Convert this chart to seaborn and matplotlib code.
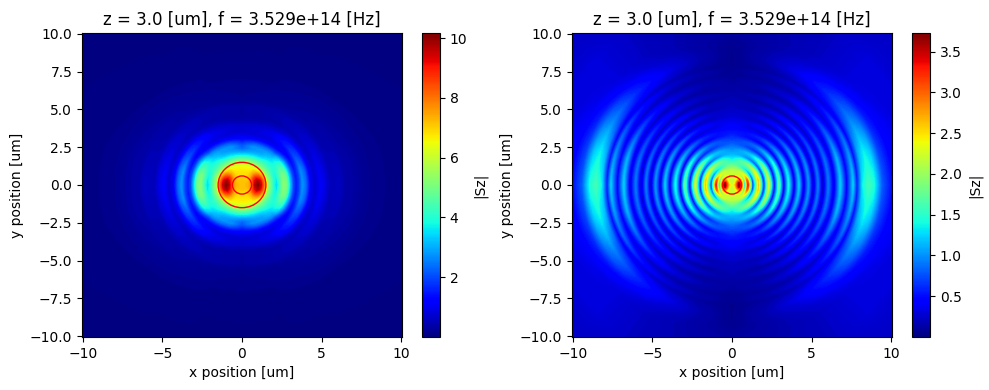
import numpy as np
import matplotlib
matplotlib.use("Agg")
import matplotlib.pyplot as plt
from matplotlib.patches import Circle
from matplotlib.cm import ScalarMappable
from matplotlib.colors import Normalize
import seaborn as sns

TITLE = "z = 3.0 [um], f = 3.529e+14 [Hz]"
ray_angles = [0, 15, 30, 45, 60, 75, 90]

left_r = [0,.2,.4,.6,.8,1.0,1.2,1.4,1.6,1.8,2.0,2.2,2.4,2.6,2.8,3.0,3.2,3.4,3.6,3.8,4.0,4.3,4.6,4.9,5.2,5.5,5.8,6.1,6.5,7,8,9,10,12,15]
left_0  = [7.2,7.2,7.3,7.8,9.6,10.1,9.4,7.8,5.5,4.8,3.8,3.4,4.4,5.2,5.0,3.4,2.0,1.4,1.9,2.7,2.3,1.0,.7,1.1,.9,.5,.55,.6,.35,.3,.15,.1,.08,.05,.03]
left_15 = [7.2,7.2,7.3,7.7,9.2,9.8,9.1,7.6,5.5,4.8,4.0,3.7,4.4,5.0,4.8,3.3,2.0,1.4,1.8,2.6,2.2,1.0,.7,1.0,.8,.5,.5,.5,.35,.3,.15,.1,.08,.05,.03]
left_30 = [7.2,7.2,7.2,7.4,8.5,8.8,8.2,7.0,5.4,4.7,4.2,4.0,4.0,4.2,4.0,2.9,1.8,1.2,1.5,2.0,1.8,.9,.6,.8,.7,.45,.4,.4,.3,.25,.12,.08,.07,.05,.03]
left_45 = [7.2,7.2,7.1,7.1,7.4,7.5,7.2,6.4,5.3,4.7,4.2,3.8,3.4,3.1,2.7,1.9,1.3,1.0,1.2,1.5,1.4,.8,.5,.6,.55,.4,.3,.3,.25,.2,.1,.07,.06,.04,.03]
left_60 = [7.2,7.2,7.0,6.9,6.9,6.8,6.6,6.0,5.2,4.5,3.8,3.2,2.9,2.8,2.4,1.7,1.1,.85,.9,1.0,.9,.6,.4,.45,.45,.3,.25,.22,.2,.15,.08,.06,.05,.04,.03]
left_75 = [7.2,7.2,7.0,6.8,6.8,6.7,6.5,6.0,5.2,4.4,3.6,3.0,2.7,2.7,2.2,1.5,1.0,.8,.8,.8,.7,.45,.35,.35,.35,.25,.18,.16,.15,.1,.07,.05,.05,.04,.03]
left_90 = [7.2,7.2,7.0,6.8,6.8,6.7,6.5,5.9,5.2,4.4,3.5,2.8,2.3,2.1,1.7,1.3,1.0,.8,.7,.7,.6,.4,.3,.3,.3,.2,.15,.15,.12,.1,.07,.05,.05,.04,.03]

right_r = [0,.2,.45,.65,.8,1.0,1.3,1.67,2.0,2.3,2.65,2.95,3.25,3.55,3.9,4.2,4.5,4.8,5.1,5.4,5.7,6.05,6.4,6.8,7.2,7.6,7.85,8.2,8.55,8.9,9.4,10,11,12,13,15]
right_0  = [2.2,2.6,3.7,2.6,1.0,3.3,.5,2.6,.4,2.3,.35,1.7,.3,1.4,.3,1.2,.25,1.0,.2,.9,.2,.9,.3,1.2,.4,1.2,.5,1.35,1.6,1.45,.8,.5,.35,.3,.25,.2]
right_15 = [2.2,2.5,3.6,2.6,1.3,3.1,.6,2.5,.45,2.1,.35,1.6,.3,1.3,.3,1.1,.25,.95,.2,.85,.2,.85,.3,1.1,.4,1.0,.45,1.1,1.35,1.2,.7,.45,.35,.3,.25,.2]
right_30 = [2.2,2.4,3.1,2.7,1.6,2.6,.8,2.3,.55,1.9,.4,1.4,.3,1.1,.25,.95,.25,.8,.2,.7,.2,.7,.25,.8,.3,.75,.38,.75,.95,.85,.55,.38,.3,.3,.25,.2]
right_45 = [2.2,2.3,2.5,2.5,2.0,2.3,1.1,2.0,.7,1.5,.5,1.1,.35,.85,.25,.7,.2,.6,.18,.55,.18,.48,.2,.5,.22,.45,.28,.5,.62,.55,.38,.3,.3,.3,.25,.2]
right_60 = [2.2,2.2,2.3,2.3,2.2,2.2,1.4,1.8,.9,1.2,.6,.85,.4,.6,.25,.5,.18,.4,.15,.35,.14,.3,.14,.28,.14,.26,.18,.3,.38,.32,.24,.2,.2,.2,.2,.18]
right_75 = [2.2,2.2,2.2,2.2,2.2,2.1,1.7,1.6,1.1,1.1,.75,.75,.5,.5,.32,.36,.22,.26,.16,.2,.12,.18,.1,.16,.1,.14,.1,.14,.17,.16,.13,.14,.16,.16,.16,.16]
right_90 = [2.2,2.2,2.2,2.2,2.2,2.1,1.8,1.35,1.15,1.0,.85,.7,.6,.5,.45,.35,.3,.25,.22,.2,.18,.15,.12,.1,.08,.07,.05,.05,.05,.05,.07,.1,.12,.15,.15,.15]

left_ticks = [2, 4, 6, 8, 10]
right_ticks = [0.5, 1.0, 1.5, 2.0, 2.5, 3.0, 3.5]
left_range = (0.0, 10.17)
right_range = (0.0, 3.73)

sns.set_theme(context="notebook", style="ticks", font="DejaVu Sans", rc={
    "font.size": 10, "axes.labelsize": 10, "axes.titlesize": 12,
    "xtick.labelsize": 10, "ytick.labelsize": 10,
    "axes.linewidth": 0.8, "xtick.major.width": 0.8, "ytick.major.width": 0.8,
    "xtick.major.size": 3.5, "ytick.major.size": 3.5,
    "text.color": "black", "axes.labelcolor": "black", "xtick.color": "black",
    "ytick.color": "black", "axes.edgecolor": "black",
})
jet = matplotlib.colormaps["jet"]

W, H = 989, 390
fig = plt.figure(figsize=(W / 100, H / 100), dpi=100)


def box(x0, x1, y0=33, y1=337):
    return [x0 / W, 1 - y1 / H, (x1 - x0) / W, (y1 - y0) / H]


def panel(rect, cbar_rect, radii, rays, rng, ticks, circles):
    ax = fig.add_axes(box(*rect))
    cax = fig.add_axes(box(*cbar_rect))
    quarter = np.array(rays)
    # the field is mirror-symmetric in x and y: unfold the quarter
    table = np.vstack([quarter, quarter[-2::-1], quarter[1:], quarter[-2::-1]])
    ray_deg = np.arange(0, 361, ray_angles[1])
    # finer drawing mesh so rings render as arcs instead of 15-degree chords
    mesh_deg = np.arange(0, 361, 2.5)
    shaded = np.column_stack([np.interp(mesh_deg, ray_deg, col) for col in table.T])
    theta = np.radians(mesh_deg)
    r = np.array(radii)
    X = np.outer(np.cos(theta), r)
    Y = np.outer(np.sin(theta), r)
    norm = Normalize(*rng)
    ax.contourf(X, Y, shaded, levels=np.linspace(rng[0], rng[1], 200), cmap=jet,
                norm=norm, extend="both", antialiased=False)
    for c in circles:
        ax.add_patch(Circle((0, 0), c, fill=False, edgecolor="red", linewidth=1))
    ax.set_xlim(-10.05, 10.05)
    ax.set_ylim(-10.05, 10.05)
    ax.set_title(TITLE)
    ax.set_xlabel("x position [um]")
    ax.set_ylabel("y position [um]")
    cb = fig.colorbar(ScalarMappable(norm=norm, cmap=jet), cax=cax)
    cb.set_ticks(ticks)
    cb.set_label("|Sz|")
    sns.despine(ax=ax, top=False, right=False)


panel((82, 402), (422, 440), left_r,
      [left_0, left_15, left_30, left_45, left_60, left_75, left_90],
      left_range, left_ticks, [1.5, 0.6])
panel((572, 892), (912, 930), right_r,
      [right_0, right_15, right_30, right_45, right_60, right_75, right_90],
      right_range, right_ticks, [0.6])

fig.savefig("out.png", dpi=100)
